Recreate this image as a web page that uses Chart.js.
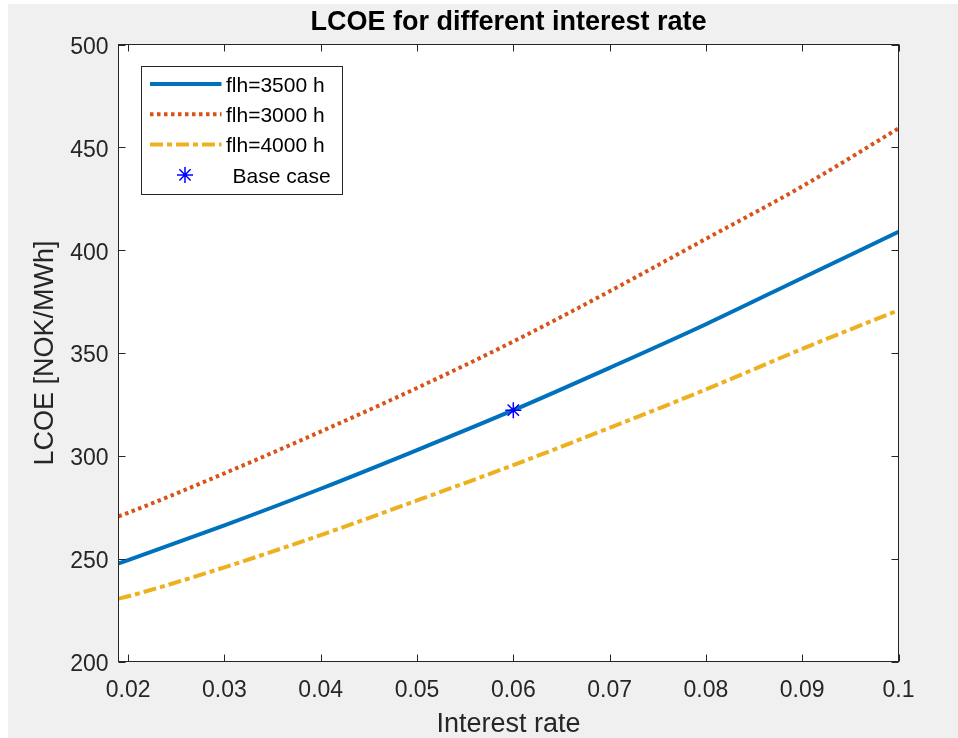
<!DOCTYPE html>
<html>
<head>
<meta charset="utf-8">
<title>LCOE for different interest rate</title>
<script src="https://cdn.jsdelivr.net/npm/chart.js@4.4.1/dist/chart.umd.min.js"></script>
<style>
	html, body { margin: 0; padding: 0; background: #fff; }
	#wrap { position: absolute; left: 8px; top: 4px; width: 950px; height: 734px; background: #f0f0f0; }
</style>
</head>
<body>
<div id="wrap"><canvas id="lcoeChart" width="950" height="734"></canvas></div>
<script>
// interest rate (x)
var rates = [0.019, 0.02, 0.03, 0.04, 0.05, 0.06, 0.07, 0.08, 0.09, 0.1];
// LCOE [NOK/MWh] for each full load hours case
var lcoe3500 = [247.7, 249.3, 266.2, 284.0, 302.8, 322.2, 342.8, 364.0, 386.5, 408.9];
var lcoe3000 = [270.6, 272.3, 291.5, 311.8, 333.0, 355.6, 380.0, 405.5, 431.0, 459.2];
var lcoe4000 = [230.6, 231.7, 245.8, 261.5, 278.3, 295.5, 313.6, 332.3, 352.0, 370.8];
// base case point
var baseRate = [0.06];
var baseLcoe = [322.2];
// axis ticks
var xTicks = [0.02, 0.03, 0.04, 0.05, 0.06, 0.07, 0.08, 0.09, 0.1];
var yTicks = [200, 250, 300, 350, 400, 450, 500];

var chartTitle = 'LCOE for different interest rate';
var axisColor = '#262626';

function toPoints(xs, ys) {
	return xs.map(function(x, i) { return { x: x, y: ys[i] }; });
}

// matlab style box: white axes, frame, inward ticks on all 4 sides, title over the axes, legend inside
var matlabBox = {
	id: 'matlabBox',
	beforeDatasetsDraw: function(chart) {
		var ctx = chart.ctx;
		var ca = chart.chartArea;
		ctx.save();
		ctx.fillStyle = '#fff';
		ctx.fillRect(ca.left, ca.top, ca.right - ca.left, ca.bottom - ca.top);
		ctx.restore();
	},
	afterDraw: function(chart) {
		var ctx = chart.ctx;
		var ca = chart.chartArea;
		var xs = chart.scales.x, ys = chart.scales.y;
		var tl = 7;
		ctx.save();
		ctx.strokeStyle = axisColor;
		ctx.lineWidth = 1;
		ctx.strokeRect(ca.left, ca.top, ca.right - ca.left, ca.bottom - ca.top);
		ctx.beginPath();
		xTicks.forEach(function(v) {
			var px = Math.round(xs.getPixelForValue(v)) + 0.5;
			ctx.moveTo(px, ca.bottom); ctx.lineTo(px, ca.bottom - tl);
			ctx.moveTo(px, ca.top); ctx.lineTo(px, ca.top + tl);
		});
		yTicks.forEach(function(v) {
			var py = Math.round(ys.getPixelForValue(v)) + 0.5;
			ctx.moveTo(ca.left, py); ctx.lineTo(ca.left + tl, py);
			ctx.moveTo(ca.right, py); ctx.lineTo(ca.right - tl, py);
		});
		ctx.stroke();

		// title, centred on the axes
		ctx.fillStyle = '#000';
		ctx.font = 'bold 27px "Liberation Sans", Arial, sans-serif';
		ctx.textAlign = 'center';
		ctx.textBaseline = 'middle';
		ctx.fillText(chartTitle, (ca.left + ca.right) / 2, 19);

		// legend
		var bx = ca.left + 23, by = ca.top + 22, bw = 201, bh = 128;
		ctx.fillStyle = '#fff';
		ctx.fillRect(bx, by, bw, bh);
		ctx.strokeStyle = axisColor;
		ctx.lineWidth = 1;
		ctx.strokeRect(bx, by, bw, bh);
		ctx.font = '21px "Liberation Sans", Arial, sans-serif';
		ctx.textBaseline = 'middle';
		ctx.textAlign = 'left';
		chart.data.datasets.forEach(function(ds, i) {
			var ry = by + 17.5 + i * 30.3;
			if (ds.showLine === false) {
				var sx = bx + 43.5, r = ds.pointRadius;
				ctx.strokeStyle = ds.borderColor;
				ctx.lineWidth = ds.borderWidth;
				ctx.setLineDash([]);
				ctx.beginPath();
				for (var k = 0; k < 4; k++) {
					var a = k * Math.PI / 4;
					ctx.moveTo(sx - Math.cos(a) * r, ry - Math.sin(a) * r);
					ctx.lineTo(sx + Math.cos(a) * r, ry + Math.sin(a) * r);
				}
				ctx.stroke();
				ctx.fillStyle = '#000';
				ctx.fillText(ds.label, bx + 91, ry + 2);
			} else {
				ctx.strokeStyle = ds.borderColor;
				ctx.lineWidth = ds.borderWidth;
				ctx.setLineDash(ds.borderDash || []);
				ctx.beginPath();
				ctx.moveTo(bx + 8.5, ry);
				ctx.lineTo(bx + 80, ry);
				ctx.stroke();
				ctx.setLineDash([]);
				ctx.fillStyle = '#000';
				ctx.fillText(ds.label, bx + 84.5, ry + 2);
			}
		});
		ctx.restore();
	}
};

Chart.defaults.font.family = '"Liberation Sans", Arial, sans-serif';

const ctxL = document.getElementById('lcoeChart');

var lcoeChart = new Chart(ctxL, {
	type: 'line',
	data: {
		datasets: [{
			label: 'flh=3500 h',
			data: toPoints(rates, lcoe3500),
			borderColor: '#0072BD',
			borderWidth: 4,
			pointRadius: 0,
			cubicInterpolationMode: 'monotone',
			order: 1
		}, {
			label: 'flh=3000 h',
			data: toPoints(rates, lcoe3000),
			borderColor: '#D95319',
			borderWidth: 4,
			borderDash: [3.5, 3.5],
			pointRadius: 0,
			cubicInterpolationMode: 'monotone',
			order: 1
		}, {
			label: 'flh=4000 h',
			data: toPoints(rates, lcoe4000),
			borderColor: '#EDB120',
			borderWidth: 4,
			borderDash: [13, 4, 5, 4],
			pointRadius: 0,
			cubicInterpolationMode: 'monotone',
			order: 1
		}, {
			label: 'Base case',
			data: toPoints(baseRate, baseLcoe),
			showLine: false,
			pointStyle: 'star',
			pointRadius: 8,
			borderColor: '#0000FF',
			borderWidth: 1.5,
			order: 0
		}]
	},
	options: {
		responsive: false,
		devicePixelRatio: 1,
		animation: false,
		layout: {
			padding: { left: 0, right: 59.5, top: 40.5, bottom: 0 }
		},
		plugins: {
			legend: { display: false },
			tooltip: { enabled: false },
			title: { display: false }
		},
		scales: {
			x: {
				type: 'linear',
				min: 0.019,
				max: 0.1,
				grid: { display: false, drawTicks: false },
				border: { display: false },
				afterBuildTicks: function(scale) {
					scale.ticks = xTicks.map(function(v) { return { value: v }; });
				},
				afterFit: function(scale) { scale.height = 76.5; },
				ticks: {
					autoSkip: false,
					maxRotation: 0,
					padding: 15,
					color: axisColor,
					font: { size: 23 },
					callback: function(v) { return String(v); }
				},
				title: {
					display: true,
					text: 'Interest rate',
					color: axisColor,
					font: { size: 27, lineHeight: 1 },
					padding: { top: 0, bottom: 0 }
				}
			},
			y: {
				min: 200,
				max: 500,
				grid: { display: false, drawTicks: false },
				border: { display: false },
				afterBuildTicks: function(scale) {
					scale.ticks = yTicks.map(function(v) { return { value: v }; });
				},
				afterFit: function(scale) { scale.width = 110.5; },
				ticks: {
					padding: 10,
					labelOffset: 3,
					color: axisColor,
					font: { size: 23 }
				},
				title: {
					display: true,
					text: 'LCOE [NOK/MWh]',
					color: axisColor,
					font: { size: 27, lineHeight: 1 },
					padding: { top: 24, bottom: 0 }
				}
			}
		}
	},
	plugins: [matlabBox]
});
</script>
</body>
</html>
